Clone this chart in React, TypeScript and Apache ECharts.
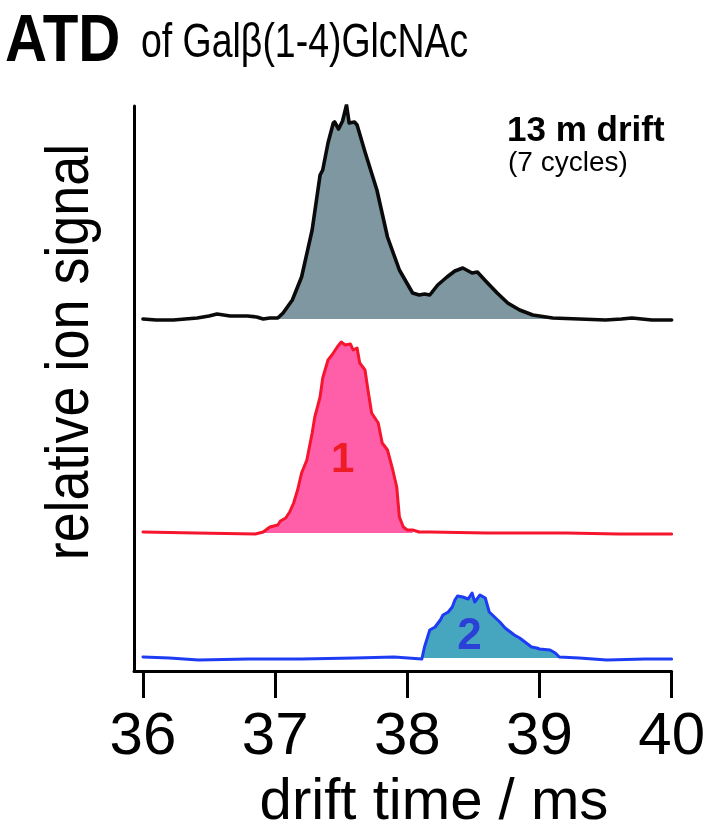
import React, { useEffect, useRef } from 'react';
import * as echarts from 'echarts';

// tick labels of the drift-time axis (ms)
const tickValues = [36, 37, 38, 39, 40];

// Top trace: 13 m drift (7 cycles), mixture
const topX = [36.0, 36.1, 36.23, 36.32, 36.41, 36.5, 36.56, 36.66, 36.72, 36.79, 36.86, 36.91, 36.96, 37.02, 37.06, 37.13, 37.2, 37.28, 37.34, 37.36, 37.4, 37.44, 37.45, 37.48, 37.51, 37.54, 37.56, 37.6, 37.62, 37.68, 37.77, 37.85, 37.94, 38.04, 38.09, 38.13, 38.17, 38.23, 38.3, 38.36, 38.42, 38.49, 38.53, 38.6, 38.68, 38.76, 38.85, 38.95, 39.1, 39.3, 39.5, 39.62, 39.7, 39.85, 40.0];
const topH = [0, -1, -1, 0, 1, 3, 5, 3, 3, 3, 2, 0, 1, 1, 6, 19, 42, 89, 144, 149, 176, 196, 197, 190, 198, 214, 196, 197, 194, 167, 129, 82, 49, 26, 24, 25, 24, 34, 42, 48, 51, 46, 47, 37, 26, 16, 9, 4, 1, 0, -1, 0, 1, -1, -1];
const topFill = [37.02, 39.1];

// Middle trace: isomer 1
const redX = [36.0, 36.4, 36.85, 36.91, 36.96, 37.02, 37.04, 37.08, 37.11, 37.14, 37.17, 37.2, 37.24, 37.28, 37.3, 37.34, 37.36, 37.4, 37.43, 37.47, 37.5, 37.53, 37.57, 37.59, 37.62, 37.64, 37.68, 37.7, 37.73, 37.78, 37.81, 37.85, 37.89, 37.92, 37.94, 37.97, 38.0, 38.04, 38.09, 38.17, 38.6, 39.2, 39.6, 40.0];
const redH = [1, 0, -1, 1, 6, 8, 12, 15, 21, 30, 43, 60, 73, 100, 116, 136, 155, 173, 178, 186, 191, 188, 189, 183, 185, 170, 163, 145, 120, 110, 90, 83, 63, 46, 16, 6, 3, 3, 1, 1, 0, 0, -1, -1];
const redFill = [36.91, 38.04];

// Bottom trace: isomer 2
const blueX = [36.0, 36.2, 36.42, 36.8, 37.2, 37.6, 37.9, 38.11, 38.13, 38.17, 38.21, 38.25, 38.27, 38.31, 38.34, 38.36, 38.38, 38.42, 38.46, 38.49, 38.51, 38.55, 38.59, 38.62, 38.66, 38.7, 38.74, 38.78, 38.81, 38.85, 38.9, 38.94, 38.98, 39.0, 39.08, 39.12, 39.15, 39.3, 39.51, 39.8, 40.0];
const blueH = [1, 0, -2, -1, -1, 0, 1, -1, 11, 28, 31, 38, 43, 46, 51, 58, 62, 61, 59, 65, 56, 63, 60, 46, 41, 36, 30, 26, 23, 20, 15, 11, 10, 9, 8, 5, 1, 0, -2, -1, -1];
const blueFill = [38.11, 39.15];

// vertical offsets of the stacked traces (relative signal units)
const topOffset = 352;
const redOffset = 138;
const blueOffset = 13;

const peakLabels = ['1', '2'];
const peakLabelPos = [
  [37.51, 76],
  [38.47, 25],
];

function toData(xs: number[], hs: number[], off: number, range?: number[]) {
  const out: number[][] = [];
  xs.forEach((x, i) => {
    if (!range || (x >= range[0] - 1e-9 && x <= range[1] + 1e-9)) out.push([x, hs[i] + off]);
  });
  return out;
}

const FONT = '"Liberation Sans", Arial, Helvetica, sans-serif';

export default function App() {
  const ref = useRef<HTMLDivElement>(null);
  useEffect(() => {
    if (!ref.current) return;
    const chart = echarts.init(ref.current, undefined, { renderer: 'svg' });
    const lineSeries = (data: number[][], color: string, width: number) => ({
      type: 'line',
      data,
      showSymbol: false,
      symbol: 'none',
      lineStyle: { color, width, join: 'round', cap: 'round' },
      z: 3,
      silent: true,
    });
    const fillSeries = (data: number[][], color: string, origin: number) => ({
      type: 'line',
      data,
      showSymbol: false,
      symbol: 'none',
      lineStyle: { width: 0, opacity: 0 },
      areaStyle: { color, opacity: 1, origin },
      z: 2,
      silent: true,
    });
    const option: any = {
      animation: false,
      grid: { left: 134, right: 35, top: 106, bottom: 160 },
      xAxis: {
        type: 'value',
        min: 35.932,
        max: 40,
        axisLine: { show: true, lineStyle: { color: '#000', width: 3 } },
        axisTick: { show: true, length: 27, inside: false, lineStyle: { color: '#000', width: 3 }, customValues: tickValues },
        axisLabel: { show: true, customValues: tickValues, fontSize: 60, color: '#000', fontFamily: FONT, margin: 32 },
        splitLine: { show: false },
      },
      yAxis: {
        type: 'value',
        min: 0,
        max: 565,
        axisLine: { show: true, lineStyle: { color: '#000', width: 3 } },
        axisTick: { show: false },
        axisLabel: { show: false },
        splitLine: { show: false },
      },
      series: [
        fillSeries(toData(topX, topH, topOffset, topFill), '#7e97a1', topOffset),
        fillSeries(toData(redX, redH, redOffset, redFill), '#ff5ea8', redOffset),
        fillSeries(toData(blueX, blueH, blueOffset, blueFill), '#46a6bf', blueOffset),
        lineSeries(toData(topX, topH, topOffset), '#0a0a0a', 3.6),
        lineSeries(toData(redX, redH, redOffset), '#f5152e', 3),
        {
          ...lineSeries(toData(blueX, blueH, blueOffset), '#1f3cf5', 3),
          markPoint: {
            symbol: 'circle',
            symbolSize: 1,
            itemStyle: { color: 'rgba(0,0,0,0)' },
            silent: true,
            data: [
              {
                coord: [peakLabelPos[0][0], peakLabelPos[0][1] + redOffset],
                label: { show: true, formatter: peakLabels[0], position: 'inside', fontSize: 42, fontWeight: 'bold', color: '#ee1c25', fontFamily: FONT },
              },
              {
                coord: [peakLabelPos[1][0], peakLabelPos[1][1] + blueOffset],
                label: { show: true, formatter: peakLabels[1], position: 'inside', fontSize: 44, fontWeight: 'bold', color: '#2a40d6', fontFamily: FONT },
              },
            ],
          },
        },
      ],
      graphic: [
        {
          type: 'text', x: 5, y: 38, scaleX: 0.87,
          style: { text: 'ATD', x: 0, y: 0, font: `bold 67px ${FONT}`, lineHeight: 56, fill: '#000', textAlign: 'left', textVerticalAlign: 'middle' },
        },
        {
          type: 'text', x: 141, y: 40, scaleX: 0.78,
          style: { text: 'of Galβ(1-4)GlcNAc', x: 0, y: 0, font: `48px ${FONT}`, lineHeight: 48, fill: '#000', textAlign: 'left', textVerticalAlign: 'middle' },
        },
        {
          type: 'text', x: 507, y: 128,
          style: { text: '13 m drift', x: 0, y: 0, font: `bold 35px ${FONT}`, fill: '#000', textAlign: 'left', textVerticalAlign: 'middle' },
        },
        {
          type: 'text', x: 508, y: 161,
          style: { text: '(7 cycles)', x: 0, y: 0, font: `28px ${FONT}`, fill: '#000', textAlign: 'left', textVerticalAlign: 'middle' },
        },
        {
          type: 'text', x: 66, y: 352, rotation: Math.PI / 2, scaleX: 0.87,
          style: { text: 'relative ion signal', x: 0, y: 0, font: `62px ${FONT}`, fill: '#000', textAlign: 'center', textVerticalAlign: 'middle' },
        },
        {
          type: 'text', x: 434, y: 799, scaleX: 1.02,
          style: { text: 'drift time / ms', x: 0, y: 0, font: `57px ${FONT}`, lineHeight: 50, fill: '#000', textAlign: 'center', textVerticalAlign: 'middle' },
        },
      ],
    };
    chart.setOption(option);
    return () => chart.dispose();
  }, []);
  return <div ref={ref} style={{ position: 'fixed', left: 0, top: 0, width: 708, height: 831 }} />;
}
